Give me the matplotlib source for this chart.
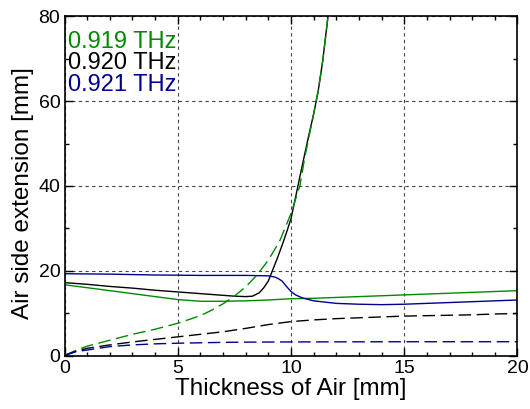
import numpy as np
import matplotlib
matplotlib.use("Agg")
import matplotlib.pyplot as plt
from matplotlib.ticker import MultipleLocator

plt.rcParams['font.family'] = ['Liberation Sans', 'DejaVu Sans']

# series (x = thickness of air [mm], y = extension [mm])
green_x = [0, 1, 2, 3, 4, 5, 6, 7, 8, 9, 10, 11, 12, 13, 14, 15, 16, 17, 18, 19, 20]
green_y = [16.7, 16.0, 15.3, 14.6, 13.9, 13.2, 12.8, 12.8, 12.9, 13.1, 13.4, 13.5,
           13.7, 13.9, 14.1, 14.3, 14.5, 14.7, 14.9, 15.1, 15.3]

black_x = [0, 1, 2, 3, 4, 5, 6, 7, 7.5, 8, 8.3, 8.6, 8.8, 9.0, 9.2, 9.4, 9.6, 9.8,
           10.0, 10.2, 10.4, 10.6, 10.8, 11.0, 11.2, 11.4, 11.6, 11.7]
black_y = [17.2, 16.8, 16.3, 15.9, 15.4, 15.0, 14.6, 14.2, 14.0, 13.9, 14.0, 14.8,
           16.0, 17.6, 20.3, 23.0, 25.9, 29.0, 32.3, 37.3, 42.4, 47.4, 52.3, 57.0,
           62.4, 69.5, 78.5, 83.0]

blue_x = [0, 2, 4, 6, 8, 9.0, 9.3, 9.45, 9.6, 9.8, 10.0, 10.2, 10.5, 11, 12, 13,
          14, 15, 16, 17, 18, 19, 20]
blue_y = [19.3, 19.2, 19.0, 18.9, 18.9, 18.8, 18.5, 18.1, 17.6, 16.3, 15.1, 14.3,
          13.6, 12.9, 12.3, 12.1, 12.0, 12.1, 12.3, 12.5, 12.7, 12.9, 13.1]

green_d_x = [0, 0.5, 1, 2, 3, 4, 5, 6, 6.5, 7, 7.5, 8, 8.5, 9.0, 9.5, 10.0, 10.4,
             10.6, 10.8, 11.0, 11.2, 11.4, 11.6, 11.7]
green_d_y = [0, 1.2, 2.2, 3.6, 5.0, 6.2, 7.6, 9.4, 10.7, 12.2, 14.0, 16.2, 19.0,
             22.5, 27.0, 33.5, 40.2, 46.5, 51.8, 57.0, 62.4, 69.5, 78.5, 83.0]

black_d_x = [0, 0.5, 1, 2, 3, 4, 5, 6, 7, 8, 9, 10, 11, 12, 13, 14, 15, 16, 17,
             18, 19, 20]
black_d_y = [0, 1.0, 1.7, 2.5, 3.2, 3.8, 4.4, 5.0, 5.6, 6.4, 7.3, 8.0, 8.4, 8.7,
             8.9, 9.1, 9.3, 9.4, 9.5, 9.6, 9.8, 9.9]

blue_d_x = [0, 0.5, 1, 2, 3, 4, 5, 6, 7, 8, 10, 15, 20]
blue_d_y = [0, 0.9, 1.3, 2.1, 2.5, 2.75, 2.9, 3.0, 3.1, 3.15, 3.2, 3.25, 3.25]

labels = ['0.919 THz', '0.920 THz', '0.921 THz']
GREEN = '#008a00'
BLACK = '#000000'
BLUE = '#000090'
colors = [GREEN, BLACK, BLUE]

fig = plt.figure(figsize=(5.30, 4.09), dpi=100)
ax = fig.add_axes([0.1217, 0.1308, 0.8547, 0.8289])

ax.plot(green_x, green_y, color=GREEN, lw=1.0)
ax.plot(black_x, black_y, color=BLACK, lw=1.0)
ax.plot(blue_x, blue_y, color=BLUE, lw=1.0)
ax.plot(green_d_x, green_d_y, color=GREEN, lw=1.0, dashes=(9, 4))
ax.plot(black_d_x, black_d_y, color=BLACK, lw=1.0, dashes=(9, 4))
ax.plot(blue_d_x, blue_d_y, color=BLUE, lw=1.0, dashes=(9, 4))

ax.set_xlim(0, 20)
ax.set_ylim(0, 80)
ax.xaxis.set_major_locator(MultipleLocator(5))
ax.xaxis.set_minor_locator(MultipleLocator(1))
ax.yaxis.set_major_locator(MultipleLocator(20))
ax.yaxis.set_minor_locator(MultipleLocator(10))
ax.tick_params(which='both', direction='in', top=True, right=True, labelsize=14,
               width=1.0)
ax.tick_params(which='major', length=6, pad=3)
ax.tick_params(which='minor', length=3)
for sp in ax.spines.values():
    sp.set_linewidth(1.2)
ax.grid(True, which='major', color='#444444', linestyle=(0, (3, 3)), linewidth=0.8)

ax.set_xlabel('Thickness of Air [mm]', fontsize=17.5, labelpad=1)
ax.set_ylabel('Air side extension [mm]', fontsize=17.5)
ax.yaxis.set_label_coords(-0.068, 0.479)

for i, (lab, c) in enumerate(zip(labels, colors)):
    ax.text(0.008, 0.925 - i * 0.063, lab, color=c, fontsize=17,
            transform=ax.transAxes, va='center', ha='left')

fig.savefig('out.png', dpi=100)
